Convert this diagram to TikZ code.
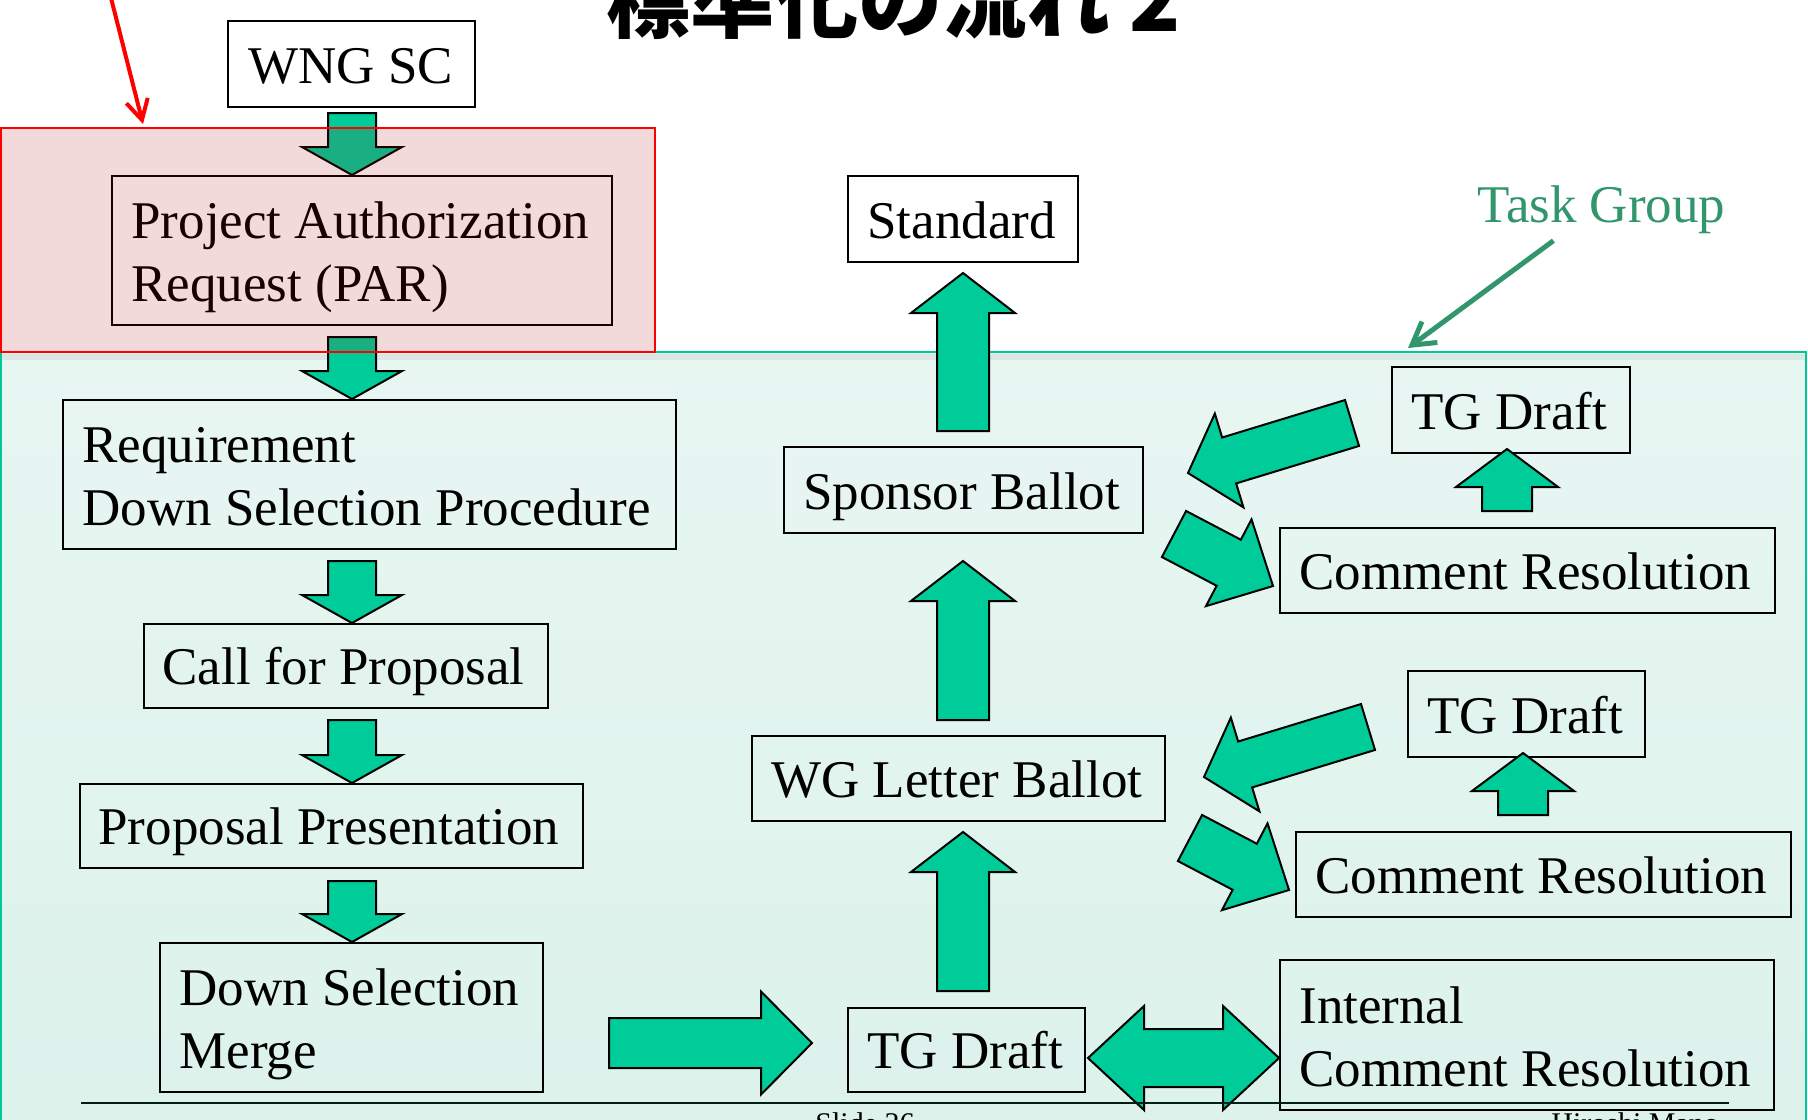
\documentclass[tikz,border=0pt]{standalone}
\usepackage{fontspec}
\setmainfont{Liberation Serif}
\newfontfamily\cjk{Noto Sans CJK JP}
\usetikzlibrary{calc,fit,arrows.meta}
\definecolor{arrowgreen}{RGB}{0,204,153}
\definecolor{tealtop}{RGB}{232,246,242}
\definecolor{tealbot}{RGB}{220,242,235}
\definecolor{tealline}{RGB}{0,200,150}
\definecolor{tglabel}{RGB}{50,150,108}
\definecolor{parzonefill}{RGB}{175,8,8}
\tikzset{
  box/.style={draw=black, line width=1pt, inner sep=0pt},
  lbl/.style={font=\fontsize{26.5pt}{32pt}\selectfont, inner sep=0pt, anchor=base west},
  ft/.style={font=\fontsize{15pt}{18pt}\selectfont, inner sep=0pt},
  blk/.style={draw=black, line width=1pt, fill=arrowgreen, line join=miter}
}
% single block arrow: #1 tail, #2 tip, #3 shaft half width, #4 head half width, #5 head length
\newcommand\blkarrow[5]{%
  \coordinate (bt) at #1; \coordinate (bp) at #2;
  \coordinate (bn) at ($(bp)!#5!(bt)$);
  \draw[blk] ($(bt)!#3!90:(bp)$) -- ($(bn)!#3!90:(bp)$) -- ($(bn)!#4!90:(bp)$) -- (bp)
    -- ($(bn)!#4!-90:(bp)$) -- ($(bn)!#3!-90:(bp)$) -- ($(bt)!#3!-90:(bp)$) -- cycle;}
% double block arrow: #1 left tip, #2 right tip, #3 shaft half, #4 head half, #5 head length
\newcommand\dblarrow[5]{%
  \coordinate (dl) at #1; \coordinate (dr) at #2;
  \coordinate (dnl) at ($(dl)!#5!(dr)$); \coordinate (dnr) at ($(dr)!#5!(dl)$);
  \draw[blk] (dl) -- ($(dnl)!#4!90:(dr)$) -- ($(dnl)!#3!90:(dr)$) -- ($(dnr)!#3!-90:(dl)$)
    -- ($(dnr)!#4!-90:(dl)$) -- (dr) -- ($(dnr)!#4!90:(dl)$) -- ($(dnr)!#3!90:(dl)$)
    -- ($(dnl)!#3!-90:(dr)$) -- ($(dnl)!#4!-90:(dr)$) -- cycle;}
\begin{document}
\begin{tikzpicture}[x=0.5pt,y=-0.5pt]
\useasboundingbox (0,0) rectangle (1808,1119);
\clip (0,0) rectangle (1808,1119);
\fill[white] (0,0) rectangle (1808,1119);

% task group zone
\node[fit={(1,352)(1806,1130)}, inner sep=0pt, draw=tealline, line width=1pt,
      top color=tealtop, bottom color=tealbot] (tgzone) {};
\fill[black, opacity=0.06] (2,354) rectangle (1805,360);

% title
\node[inner sep=0pt, anchor=base west, font={\cjk\bfseries\fontsize{42pt}{48pt}\selectfont}] (title) at (606,32) {標準化の流れ 2};

% boxes
\node[box, fit={(228,21)(475,107)}] (wng) {};
\node[box, fit={(112,176)(612,325)}] (par) {};
\node[box, fit={(63,400)(676,549)}] (req) {};
\node[box, fit={(144,624)(548,708)}] (call) {};
\node[box, fit={(80,784)(583,868)}] (pp) {};
\node[box, fit={(160,943)(543,1092)}] (dsm) {};
\node[box, fit={(848,176)(1078,262)}] (std) {};
\node[box, fit={(784,447)(1143,533)}] (sb) {};
\node[box, fit={(752,736)(1165,821)}] (wg) {};
\node[box, fit={(848,1008)(1085,1092)}] (tg) {};
\node[box, fit={(1280,960)(1774,1110)}] (icr) {};
\node[box, fit={(1392,367)(1630,453)}] (tgd1) {};
\node[box, fit={(1280,528)(1775,613)}] (cr1) {};
\node[box, fit={(1408,671)(1645,757)}] (tgd2) {};
\node[box, fit={(1296,832)(1791,917)}] (cr2) {};

% texts
\node[lbl] (wngT) at ($(wng.south west)+(21,-25)$) {WNG SC};
\node[lbl] (parT1) at ($(par.south west)+(20,-88)$) {Project Authorization};
\node[lbl] (parT2) at ($(par.south west)+(20,-25)$) {Request (PAR)};
\node[lbl] (reqT1) at ($(req.south west)+(20,-88)$) {Requirement};
\node[lbl] (reqT2) at ($(req.south west)+(20,-25)$) {Down Selection Procedure};
\node[lbl] (callT) at ($(call.south west)+(19,-25)$) {Call for Proposal};
\node[lbl] (ppT) at ($(pp.south west)+(19,-25)$) {Proposal Presentation};
\node[lbl] (dsmT1) at ($(dsm.south west)+(20,-88)$) {Down Selection};
\node[lbl] (dsmT2) at ($(dsm.south west)+(20,-25)$) {Merge};
\node[lbl] (stdT) at ($(std.south west)+(20,-25)$) {Standard};
\node[lbl] (sbT) at ($(sb.south west)+(20,-25)$) {Sponsor Ballot};
\node[lbl] (wgT) at ($(wg.south west)+(20,-25)$) {WG Letter Ballot};
\node[lbl] (tgT) at ($(tg.south west)+(20,-25)$) {TG Draft};
\node[lbl] (icrT1) at ($(icr.south west)+(20,-88)$) {Internal};
\node[lbl] (icrT2) at ($(icr.south west)+(20,-25)$) {Comment Resolution};
\node[lbl] (tgd1T) at ($(tgd1.south west)+(20,-25)$) {TG Draft};
\node[lbl] (cr1T) at ($(cr1.south west)+(20,-25)$) {Comment Resolution};
\node[lbl] (tgd2T) at ($(tgd2.south west)+(20,-25)$) {TG Draft};
\node[lbl] (cr2T) at ($(cr2.south west)+(20,-25)$) {Comment Resolution};

% column guides
\coordinate (cL) at (352,0);
\coordinate (cM) at (963,0);
\coordinate (cR1) at (1507,0);
\coordinate (cR2) at (1523,0);

% left column arrows
\blkarrow{($(cL |- wng.south)+(0,5)$)}{(cL |- par.north)}{12pt}{25pt}{14pt}
\blkarrow{($(cL |- par.south)+(0,11)$)}{(cL |- req.north)}{12pt}{25pt}{14pt}
\blkarrow{($(cL |- req.south)+(0,11)$)}{(cL |- call.north)}{12pt}{25pt}{14pt}
\blkarrow{($(cL |- call.south)+(0,11)$)}{(cL |- pp.north)}{12pt}{25pt}{14pt}
\blkarrow{($(cL |- pp.south)+(0,12)$)}{(cL |- dsm.north)}{12pt}{25pt}{14pt}

% middle column arrows
\blkarrow{($(cM |- tg.north)+(0,-16)$)}{($(cM |- wg.south)+(0,10)$)}{13pt}{26pt}{20pt}
\blkarrow{($(cM |- wg.north)+(0,-15)$)}{($(cM |- sb.south)+(0,27)$)}{13pt}{26pt}{20pt}
\blkarrow{($(cM |- sb.north)+(0,-15)$)}{($(cM |- std.south)+(0,10)$)}{13pt}{26pt}{20pt}

% merge -> TG draft
\blkarrow{($(dsm.east |- tg.center)+(65,-7)$)}{($(tg.west)+(-35,-7)$)}{12.5pt}{25.75pt}{25.5pt}
% TG draft <-> internal comment resolution
\dblarrow{($(tg.east)+(2,8)$)}{($(tg.east -| icr.west)+(0,8)$)}{14.5pt}{26pt}{28pt}

% comment resolution -> TG draft (small up arrows)
\blkarrow{($(cR1 |- cr1.north)+(0,-16)$)}{($(cR1 |- tgd1.south)+(0,-5)$)}{12.5pt}{25.5pt}{19pt}
\blkarrow{($(cR2 |- cr2.north)+(0,-16)$)}{($(cR2 |- tgd2.south)+(0,-5)$)}{12.5pt}{25.5pt}{19pt}

% slanted arrows, upper group
\coordinate (s1t) at (1352,423); \coordinate (s1p) at (1188,473);
\coordinate (s2t) at (1174,534); \coordinate (s2p) at (1273,586);
\blkarrow{(s1t)}{(s1p)}{12pt}{24.5pt}{21.5pt}
\blkarrow{(s2t)}{(s2p)}{13pt}{24.5pt}{25pt}
% slanted arrows, lower group
\coordinate (s3t) at (1368,727); \coordinate (s3p) at (1204,777);
\coordinate (s4t) at (1190,838); \coordinate (s4p) at (1289,890);
\blkarrow{(s3t)}{(s3p)}{12pt}{24.5pt}{21.5pt}
\blkarrow{(s4t)}{(s4p)}{13pt}{24.5pt}{25pt}

% PAR highlight zone
\node[fit={(1,128)(655,352)}, inner sep=0pt, draw=red, line width=1pt,
      fill=parzonefill, fill opacity=0.15, draw opacity=1] (parzone) {};

% red pointer
\coordinate (redA) at (110,-6);
\draw[red, line width=2pt, line cap=round, -{Straight Barb[length=10pt,width=11pt]}]
  (redA) -- ($(parzone.north west)+(143,-3)$);

% Task Group label and pointer
\node[lbl, text=tglabel] (tglab) at (1477,222) {Task Group};
\draw[tglabel, line width=2.5pt, -{Straight Barb[length=11pt,width=13pt]}]
  ($(tglab.south)+(-48,7)$) -- ($(tgzone.north west)+(1408,-3)$);

% footer
\draw[line width=1.2pt, black!85!tealline] (81,1103) -- (1729,1103);
\node[ft, anchor=base] (slide) at (865,1133) {Slide 36};
\node[ft, anchor=base west] (author) at (1551,1133) {Hiroshi Mano};
\end{tikzpicture}
\end{document}
